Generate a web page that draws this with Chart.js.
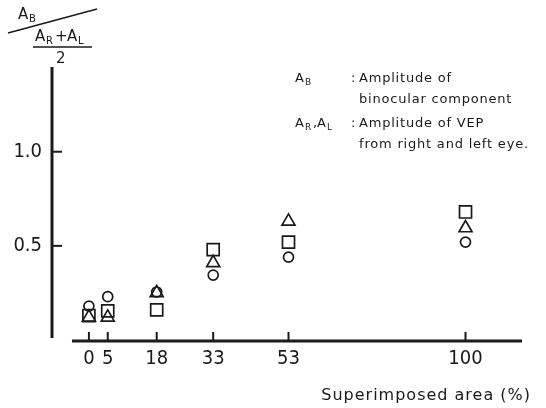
<!DOCTYPE html>
<html>
<head>
<meta charset="utf-8">
<script src="https://cdn.jsdelivr.net/npm/chart.js@4"></script>
<style>
  html, body { margin: 0; padding: 0; background: #fff; }
  #wrap { width: 546px; height: 408px; }
</style>
</head>
<body>
<div id="wrap"><canvas id="chart" width="546" height="408"></canvas></div>
<script>
// superimposed area (%) and the three symbol series
const xValues = [0, 5, 18, 33, 53, 100];
const circleValues = [0.18, 0.23, 0.255, 0.345, 0.44, 0.52];
const squareValues = [0.13, 0.155, 0.16, 0.48, 0.52, 0.68];
const triangleValues = [0.12, 0.12, 0.25, 0.41, 0.63, 0.595];
const yTickValues = [0.5, 1.0];

const tickFont = { family: '"Liberation Sans Narrow", "DejaVu Sans Condensed", Roboto, sans-serif', size: 20 };
const ink = '#1a1a1a';

function toPoints(ys) {
    return xValues.map((x, i) => ({ x: x, y: ys[i] }));
}

function makeSet(label, ys, style, radius) {
    return {
        label: label,
        data: toPoints(ys),
        pointStyle: style,
        pointRadius: radius,
        pointHoverRadius: radius,
        pointBorderWidth: 1.7,
        borderColor: ink,
        backgroundColor: 'rgba(255,255,255,0)',
        showLine: false
    };
}

// axes, tick marks and the annotation texts
const decorations = {
    id: 'decorations',
    afterDraw(chart) {
        const ctx = chart.ctx;
        const xs = chart.scales.x;
        const ys = chart.scales.y;
        const area = chart.chartArea;
        const y0 = ys.getPixelForValue(0);

        ctx.save();
        ctx.strokeStyle = ink;
        ctx.fillStyle = ink;

        // y axis line (detached from x axis)
        ctx.lineWidth = 3;
        ctx.beginPath();
        ctx.moveTo(area.left, area.top);
        ctx.lineTo(area.left, y0 - 2);
        ctx.stroke();

        // x axis line
        ctx.beginPath();
        ctx.moveTo(xs.getPixelForValue(-4.5), y0 + 1);
        ctx.lineTo(area.right, y0 + 1);
        ctx.stroke();

        // inward ticks
        ctx.lineWidth = 2;
        yTickValues.forEach(v => {
            const py = ys.getPixelForValue(v);
            ctx.beginPath();
            ctx.moveTo(area.left, py);
            ctx.lineTo(area.left + 10, py);
            ctx.stroke();
        });
        xValues.forEach(v => {
            const px = xs.getPixelForValue(v);
            ctx.beginPath();
            ctx.moveTo(px, y0 + 1);
            ctx.lineTo(px, y0 - 8);
            ctx.stroke();
        });

        // y axis label: A_B / ((A_R + A_L) / 2)
        ctx.font = '15px "DejaVu Sans", sans-serif';
        ctx.textBaseline = 'alphabetic';
        ctx.textAlign = 'left';
        ctx.fillText('A', 18, 19);
        ctx.font = '10px "DejaVu Sans", sans-serif';
        ctx.fillText('B', 29, 22);
        ctx.lineWidth = 1.4;
        ctx.beginPath();
        ctx.moveTo(8, 33);
        ctx.lineTo(97, 9);
        ctx.stroke();
        ctx.font = '15px "DejaVu Sans", sans-serif';
        ctx.fillText('A', 35, 41);
        ctx.font = '10px "DejaVu Sans", sans-serif';
        ctx.fillText('R', 46, 44);
        ctx.font = '15px "DejaVu Sans", sans-serif';
        ctx.fillText('+', 55, 41);
        ctx.fillText('A', 67, 41);
        ctx.font = '10px "DejaVu Sans", sans-serif';
        ctx.fillText('L', 78, 44);
        ctx.beginPath();
        ctx.moveTo(33, 47);
        ctx.lineTo(92, 47);
        ctx.stroke();
        ctx.font = '15px "DejaVu Sans", sans-serif';
        ctx.fillText('2', 56, 63);

        // legend of symbols
        const lx = 295, cx = 351, tx = 359;
        ctx.letterSpacing = '0.8px';
        ctx.font = '13px "DejaVu Sans", sans-serif';
        ctx.fillText('A', lx, 82);
        ctx.font = '9px "DejaVu Sans", sans-serif';
        ctx.fillText('B', lx + 10, 85);
        ctx.font = '13px "DejaVu Sans", sans-serif';
        ctx.fillText(':', cx, 82);
        ctx.fillText('Amplitude of', tx, 82);
        ctx.fillText('binocular component', tx, 103);
        ctx.fillText('A', lx, 127);
        ctx.font = '9px "DejaVu Sans", sans-serif';
        ctx.fillText('R', lx + 10, 130);
        ctx.font = '13px "DejaVu Sans", sans-serif';
        ctx.fillText(',', lx + 18, 127);
        ctx.fillText('A', lx + 22, 127);
        ctx.font = '9px "DejaVu Sans", sans-serif';
        ctx.fillText('L', lx + 32, 130);
        ctx.font = '13px "DejaVu Sans", sans-serif';
        ctx.fillText(':', cx, 127);
        ctx.fillText('Amplitude of VEP', tx, 127);
        ctx.fillText('from right and left eye.', tx, 148);

        // x axis title
        ctx.font = '16px "DejaVu Sans", sans-serif';
        ctx.letterSpacing = '1px';
        ctx.textAlign = 'right';
        ctx.fillText('Superimposed area (%)', 531, 400);
        ctx.restore();
    }
};

const chart = new Chart(document.getElementById('chart').getContext('2d'), {
    type: 'scatter',
    data: {
        datasets: [
            makeSet('circle', circleValues, 'circle', 5),
            makeSet('square', squareValues, 'rect', 8.5),
            makeSet('triangle', triangleValues, 'triangle', 7.5)
        ]
    },
    options: {
        responsive: false,
        animation: false,
        devicePixelRatio: 1,
        layout: { padding: { left: 0, right: 24, top: 67, bottom: 0 } },
        plugins: { legend: { display: false }, tooltip: { enabled: false } },
        scales: {
            x: {
                type: 'linear',
                min: -9.8,
                max: 115,
                afterBuildTicks: s => { s.ticks = xValues.map(v => ({ value: v })); },
                afterFit: s => { s.height = 68; },
                grid: { display: false, drawTicks: false },
                border: { display: false },
                ticks: { font: tickFont, color: ink, padding: 7, autoSkip: false, maxRotation: 0 }
            },
            y: {
                min: 0,
                max: 1.45,
                afterBuildTicks: s => { s.ticks = yTickValues.map(v => ({ value: v })); },
                afterFit: s => { s.width = 52; },
                grid: { display: false, drawTicks: false },
                border: { display: false },
                ticks: { font: tickFont, color: ink, padding: 10, callback: v => v.toFixed(1) }
            }
        }
    },
    plugins: [decorations]
});
</script>
</body>
</html>
